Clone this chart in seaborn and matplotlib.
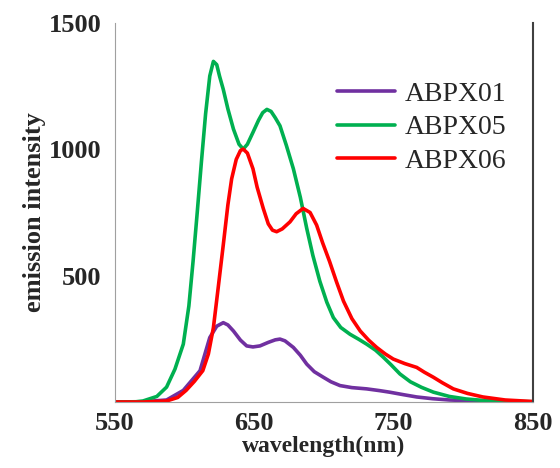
import matplotlib
matplotlib.use("Agg")
import matplotlib.pyplot as plt
import seaborn as sns
import pandas as pd

# wavelength (nm) / emission intensity
wl_01 = [550, 570, 587, 599, 611, 618, 623, 627.7, 631, 635, 640, 644.5, 649, 654, 660, 665, 668.4, 672,
         678, 683, 687.6, 693, 699.5, 705, 711.5, 720, 730.6, 740, 747, 757, 766.5, 778, 790, 810, 830, 850]
int_01 = [0, 1, 8, 46, 124, 255, 300, 314, 305, 281, 245, 222, 218, 222, 236, 246, 249, 242,
          216, 185, 150, 120, 98, 80, 65, 57, 52, 45, 39, 29, 20, 13, 8, 4, 1, 0]

wl_05 = [550, 565, 570, 580, 587, 593, 599, 603, 606, 609, 612, 615, 618, 620.6, 623, 625, 627.7, 631, 635,
         639, 642, 645, 649, 653, 656, 659, 662, 665, 668.4, 673, 678, 683, 687.6, 692, 697, 702, 706.7,
         712, 718.7, 725, 730.6, 737, 742.6, 748, 754.5, 762, 770, 778.5, 790, 802, 815, 830, 850]
int_05 = [0, 1, 4, 22, 59, 130, 229, 380, 556, 750, 950, 1140, 1290, 1348, 1335, 1290, 1237, 1160, 1080,
          1020, 1001, 1020, 1067, 1115, 1145, 1158, 1150, 1125, 1093, 1015, 923, 810, 687, 580, 478, 395, 334,
          295, 268, 248, 229, 205, 177, 148, 111, 80, 58, 39, 22, 12, 6, 3, 1]

wl_06 = [550, 570, 587, 595, 601, 607, 613, 617, 620.6, 624, 627.7, 631, 633.7, 637, 640, 642, 645, 649,
         652, 656.4, 660, 663, 666, 670, 675.6, 680, 685, 690, 694.7, 699, 704, 709, 714, 720, 726, 732,
         737.8, 744, 749.7, 758, 766.5, 772, 778.5, 785, 792.8, 803, 814, 830, 850]
int_06 = [0, 0, 4, 18, 46, 82, 124, 190, 294, 450, 622, 780, 883, 960, 995, 1001, 985, 923,
          850, 766, 705, 680, 674, 685, 713, 745, 766, 750, 700, 630, 556, 475, 399, 330, 281, 245,
          216, 190, 170, 152, 137, 118, 98, 76, 52, 34, 20, 8, 2]

names = ["ABPX01", "ABPX05", "ABPX06"]
colors = ["#7030A0", "#00B050", "#FF0000"]

frames = []
for name, wl, val in zip(names, [wl_01, wl_05, wl_06], [int_01, int_05, int_06]):
    frames.append(pd.DataFrame({"wavelength": wl, "intensity": val, "sample": name}))
df = pd.concat(frames, ignore_index=True)

sns.set_style("white")
plt.rcParams["font.family"] = ["Liberation Serif", "DejaVu Serif"]

fig = plt.figure(figsize=(5.6, 4.68), dpi=100)
ax = fig.add_axes([0.2054, 0.141, 0.7464, 0.8099])
sns.lineplot(data=df, x="wavelength", y="intensity", hue="sample", palette=colors,
             linewidth=2.6, ax=ax, sort=False)

ax.set_xlim(550, 850)
ax.set_ylim(0, 1500)
ax.set_xticks([550, 650, 750, 850])
ax.set_yticks([500, 1000, 1500])
ax.tick_params(direction="in", length=4, color="#a0a0a0", labelsize=19)
ax.tick_params(axis="x", pad=7)
ax.tick_params(axis="y", pad=10)
for lab in ax.get_xticklabels() + ax.get_yticklabels():
    lab.set_fontweight("bold")
ax.set_xlabel("wavelength(nm)", fontsize=17, fontweight="bold", labelpad=1)
ax.set_ylabel("emission intensity", fontsize=19, fontweight="bold", labelpad=2)

ax.spines["top"].set_visible(False)
ax.spines["left"].set_color("#a0a0a0")
ax.spines["bottom"].set_color("#a0a0a0")
ax.spines["right"].set_color("#404040")
ax.spines["right"].set_linewidth(1.5)

ax.legend(loc="upper left", bbox_to_anchor=(0.471, 0.911), frameon=False, fontsize=20,
          handlelength=2.1, handletextpad=0.36, labelspacing=0.28)

fig.savefig("out.png", dpi=100)
